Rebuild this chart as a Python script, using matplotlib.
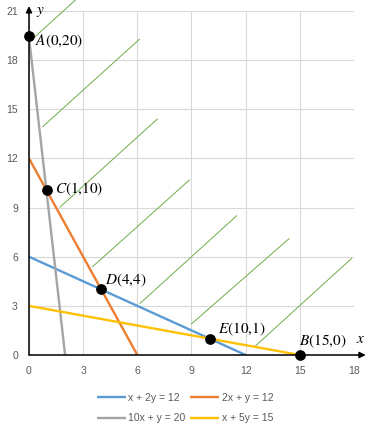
import matplotlib.pyplot as plt

plt.rcParams['mathtext.fontset'] = 'stix'
plt.rcParams['font.family'] = ['Liberation Sans', 'DejaVu Sans']

# constraint lines (end points)
line_labels = ['x + 2y = 12', '2x + y = 12', '10x + y = 20', 'x + 5y = 15']
line_x = [[0, 12], [0, 6], [0, 2], [0, 15]]
line_y = [[6, 0], [12, 0], [19.4, 0], [3, 0]]
line_colors = ['#5B9BD5', '#ED7D31', '#A5A5A5', '#FFC000']

# corner points
pt_names = ['A(0,20)', 'C(1,10)', 'D(4,4)', 'E(10,1)', 'B(15,0)']
pt_x = [0, 1, 4, 10, 15]
pt_y = [19.5, 10.1, 4, 1, 0]
pt_offsets = [(6, -6), (8, 0), (4, 9), (8, 9), (-1, 14)]  # pixels

# hatching of the feasible region
hatch_x0 = [0.0, 0.76, 1.72, 3.52, 6.15, 9.0, 12.5]
hatch_y0 = [19.1, 13.94, 9.03, 5.39, 3.15, 1.9, 0.51]
hatch_x1 = [2.8, 6.11, 7.1, 8.88, 11.5, 14.4, 17.87]
hatch_y1 = [21.9, 19.27, 14.4, 10.68, 8.5, 7.1, 5.9]

fig = plt.figure(figsize=(3.7, 4.29), dpi=100)
ax = fig.add_axes([29 / 370, 74 / 429, 325 / 370, 344 / 429])

ax.set_xlim(0, 18)
ax.set_ylim(0, 21)
ax.set_xticks(range(0, 19, 3))
ax.set_yticks(range(0, 22, 3))
ax.grid(color='#D9D9D9', lw=0.8)
ax.set_axisbelow(True)
for s in ax.spines.values():
    s.set_visible(False)
ax.tick_params(length=0, labelsize=7.5, labelcolor='#595959')
ax.tick_params(axis='x', pad=8)
ax.tick_params(axis='y', pad=8)

for i in range(len(hatch_x0)):
    ax.plot([hatch_x0[i], hatch_x1[i]], [hatch_y0[i], hatch_y1[i]],
            color='#70AD47', lw=0.7, clip_on=False, zorder=2)

handles = []
for lx, ly, c, lab in zip(line_x, line_y, line_colors, line_labels):
    h, = ax.plot(lx, ly, color=c, lw=1.7, label=lab, zorder=3, solid_capstyle='butt')
    handles.append(h)

# axis arrows
ax.annotate('', xy=(18.65, 0), xytext=(0, 0), annotation_clip=False,
            arrowprops=dict(arrowstyle='-|>', color='black', lw=1.1,
                            mutation_scale=9, shrinkA=0, shrinkB=0), zorder=4)
ax.annotate('', xy=(0, 21.3), xytext=(0, 0), annotation_clip=False,
            arrowprops=dict(arrowstyle='-|>', color='black', lw=1.1,
                            mutation_scale=9, shrinkA=0, shrinkB=0), zorder=4)
ax.text(18.35, 0.95, '$x$', fontsize=11, ha='center', va='center')
ax.text(0.65, 20.95, '$y$', fontsize=11, ha='center', va='center')

ax.scatter(pt_x, pt_y, s=45, color='black', zorder=5, clip_on=False)
for name, px, py, off in zip(pt_names, pt_x, pt_y, pt_offsets):
    ax.annotate('$' + name.replace(',', '{,}') + '$', (px, py), xytext=off,
                textcoords='offset pixels', fontsize=11, ha='left', va='center', zorder=6)

# legend filled row by row: blue, orange / gray, yellow
order = [0, 2, 1, 3]
fig.legend([handles[i] for i in order], [line_labels[i] for i in order],
           loc='center', bbox_to_anchor=(0.5, 0.049), ncol=2, frameon=False,
           fontsize=7.5, handlelength=2.8, handletextpad=0.25, columnspacing=0.4,
           labelspacing=1.0, borderpad=0, labelcolor='#595959')

fig.savefig('out.png', dpi=100)
